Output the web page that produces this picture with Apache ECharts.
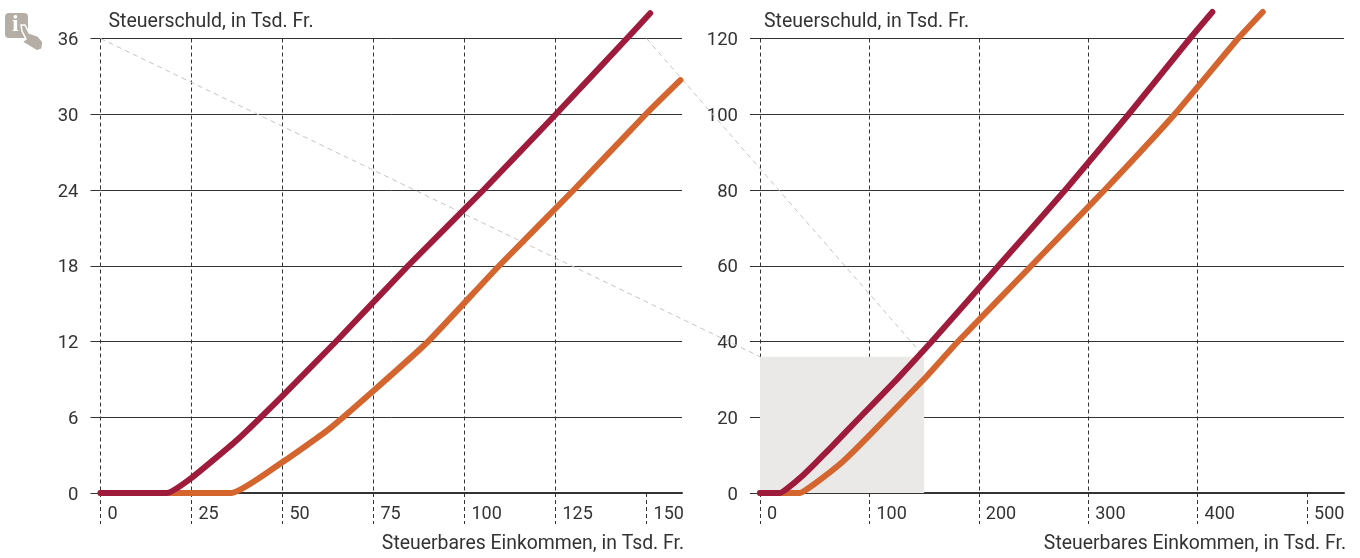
<!DOCTYPE html>
<html><head><meta charset="utf-8">
<style>html,body{margin:0;padding:0;background:#fff}#c{width:1360px;height:558px}</style>
<script src="https://cdn.jsdelivr.net/npm/echarts@6/dist/echarts.min.js"></script>
</head><body><div id="c"></div>
<script>
const leftXTicks=[0,25,50,75,100,125,150];
const rightXTicks=[0,100,200,300,400,500];
const leftYMax=36, rightYMax=120;
const zoomBoxX=150, zoomBoxY=36;
const yTitle='Steuerschuld, in Tsd. Fr.';
const xTitle='Steuerbares Einkommen, in Tsd. Fr.';
const redLeft=[[0,0],[18.2,0],[25,1.2],[37.5,4.2],[50,7.7],[64.7,12],[84.5,18],[105.2,24],[125.1,30],[144.6,36],[151,38]];
const orangeLeft=[[0,0],[36,0],[50,2.45],[62.5,5],[75,8.1],[90,12],[109.5,18],[130,24],[149.8,30],[159.3,32.7]];
const redRight=[[0,0],[18.3,0],[25,1.2],[37.5,4.2],[50,7.7],[64.7,12],[91.4,20],[125.1,30],[157,40],[218,60],[279,80],[337,100],[393,120],[413.5,127]];
const orangeRight=[[0,0],[36.3,0],[50,2.45],[75,8.1],[100,15.2],[150,30.1],[181,40],[248,60],[315,80],[379,100],[437,120],[459.5,127]];
const FONT='Roboto', TXT='#333', LINE='#333', RED='#9e1b3c', ORANGE='#d4652f';
const dash=[4,3];
function xAxis(i,ticks,max){return {gridIndex:i,type:'value',min:0,max:max,interval:ticks[1],
  name:xTitle,nameLocation:'end',nameGap:0,
  nameTextStyle:{fontFamily:FONT,fontSize:19.4,color:TXT,align:'right',verticalAlign:'top',padding:[42,-2,0,0]},
  axisLine:{show:true,onZero:false,lineStyle:{color:LINE,width:2}},
  axisTick:{show:true,length:31,inside:false,customValues:ticks,lineStyle:{color:LINE,type:dash,width:1}},
  axisLabel:{show:true,customValues:ticks,margin:12,align:'left',fontFamily:FONT,fontSize:18,color:TXT,padding:[0,0,0,7]},
  splitLine:{show:true,showMaxLine:false,lineStyle:{color:LINE,type:dash,width:1}}};}
function yAxis(i,max,step,pad){return {gridIndex:i,type:'value',min:0,max:max,interval:step,
  name:yTitle,nameLocation:'end',nameGap:0,
  nameTextStyle:{fontFamily:FONT,fontSize:19.5,color:TXT,align:'left',verticalAlign:'bottom',padding:[0,0,6,pad]},
  axisLine:{show:false},
  axisTick:{show:true,length:10,lineStyle:{color:LINE,width:1}},
  axisLabel:{margin:22,fontFamily:FONT,fontSize:18.5,color:TXT,verticalAlign:'top',lineHeight:18,padding:[-7,0,0,0]},
  splitLine:{show:true,lineStyle:{color:LINE,width:1}}};}
function curve(i,name,data,color,z){return {type:'line',name:name,xAxisIndex:i,yAxisIndex:i,data:data,showSymbol:false,symbol:'none',clip:false,z:z,silent:true,
  smooth:0.15,
  lineStyle:{color:color,width:6,cap:'round',join:'round'},animation:false};}
function topExt(i,yTop,yMax){return {type:'line',xAxisIndex:i,yAxisIndex:i,data:[],z:1,silent:true,animation:false,
  markLine:{silent:true,animation:false,symbol:'none',label:{show:false},lineStyle:{color:LINE,type:dash,width:1},
    data:[[{coord:[0,yMax]},{coord:[0,yTop]}]]}};}
const opt={animation:false,backgroundColor:'#fff',
  grid:[{left:100.5,right:678,top:38.5,bottom:65},{left:760,right:16,top:38.5,bottom:65}],
  xAxis:[xAxis(0,leftXTicks,159.75),xAxis(1,rightXTicks,533.8)],
  yAxis:[yAxis(0,leftYMax,6,8),yAxis(1,rightYMax,20,4)],
  series:[
    {type:'line',xAxisIndex:1,yAxisIndex:1,data:[],z:-1,silent:true,animation:false,
     markArea:{silent:true,animation:false,itemStyle:{color:'#ebe9e7'},data:[[{coord:[0,0]},{coord:[zoomBoxX,zoomBoxY]}]]}},
    topExt(0,38.16,leftYMax),topExt(1,127.2,rightYMax),
    curve(0,'orangeL',orangeLeft,ORANGE,3),curve(0,'redL',redLeft,RED,4),
    curve(1,'orangeR',orangeRight,ORANGE,3),curve(1,'redR',redRight,RED,4)
  ]};
const chart=echarts.init(document.getElementById('c'),null,{renderer:'canvas'});
chart.setOption(opt);
const p=(g,v)=>chart.convertToPixel({gridIndex:g},v);
const a0=p(0,[0,zoomBoxY]),a1=p(1,[0,zoomBoxY]),b0=p(0,[zoomBoxX,zoomBoxY]),b1=p(1,[zoomBoxX,zoomBoxY]);
const guide=(s,e)=>({type:'line',z:1,silent:true,shape:{x1:s[0],y1:s[1],x2:e[0],y2:e[1]},style:{stroke:'#c9c4bd',lineWidth:1,lineDash:[5,4]}});
chart.setOption({graphic:[
  guide(a0,a1),guide(b0,b1),
  {type:'rect',silent:true,shape:{x:5,y:13,width:23,height:25,r:4},style:{fill:'#b5aea6'}},
  {type:'text',silent:true,x:12,y:13,style:{text:'i',font:'bold 24px "Liberation Serif"',fill:'#fff'}},
  {type:'polygon',silent:true,shape:{points:[[21,25],[25,25],[29,33],[38,36],[43,42],[42,49],[37,51],[22,42],[26,39],[22,31]]},style:{fill:'#b5aea6',stroke:'#fff',lineWidth:1.5}}
]});
</script></body></html>
